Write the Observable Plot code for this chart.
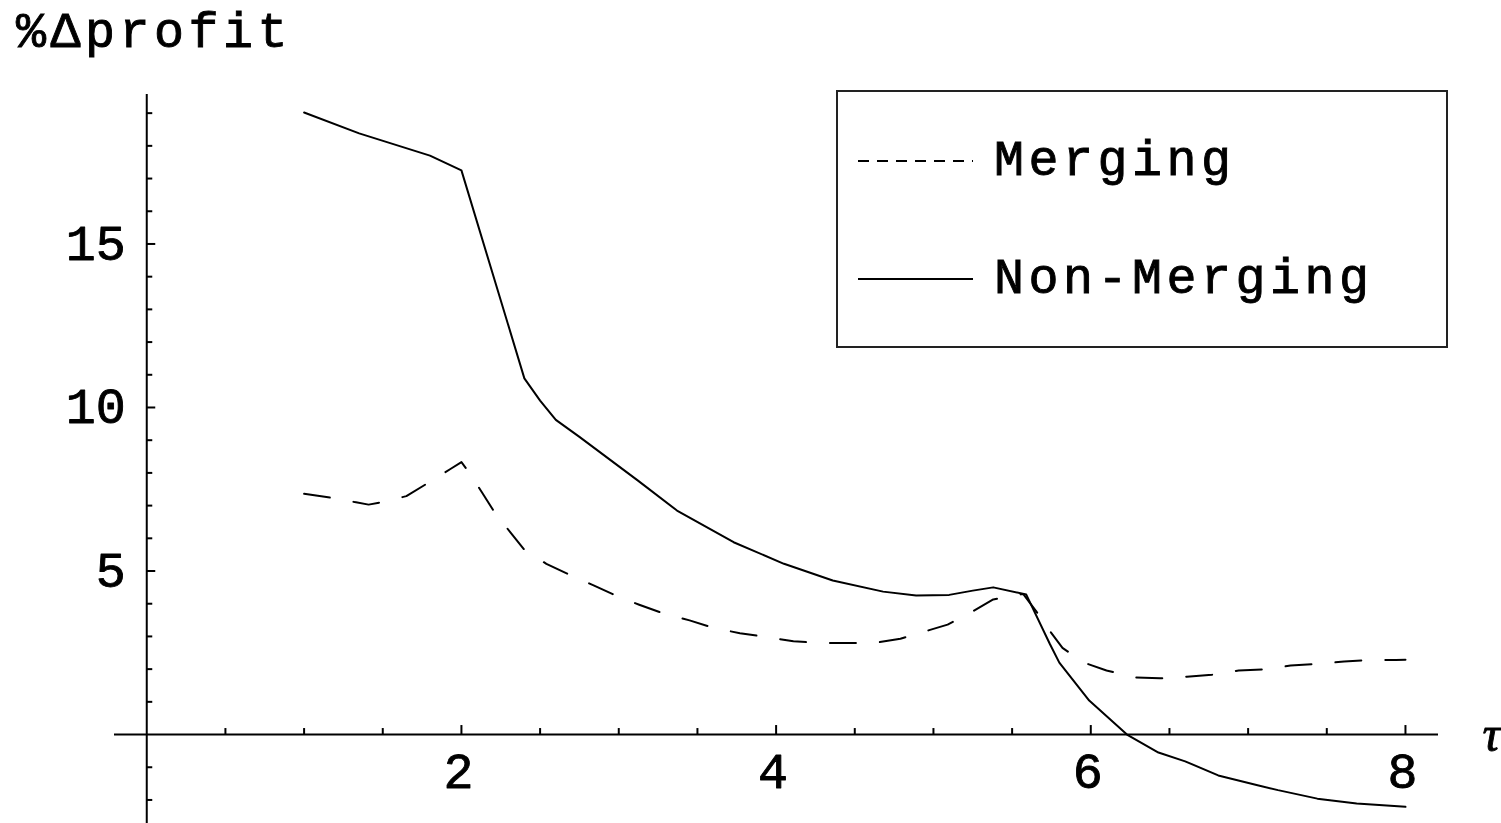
<!DOCTYPE html>
<html><head><meta charset="utf-8">
<script src="https://cdn.jsdelivr.net/npm/d3@7"></script>
<script src="https://cdn.jsdelivr.net/npm/@observablehq/plot@0.6"></script>
<style>
html,body{margin:0;padding:0;background:#fff;}
#wrap{position:relative;width:1501px;height:823px;overflow:hidden;background:#fff;}
#wrap svg{display:block;}
#overlay{position:absolute;left:0;top:0;pointer-events:none;}
</style>
</head><body>
<div id="wrap"></div>
<script>
// ---- data ----
const seriesNames = ["Merging", "Non-Merging"];
const yLabel = "%Δprofit";
const xLabel = "τ";

const nonMergingTau    = [1.0, 1.35, 1.8, 2.0, 2.4, 2.5, 2.6, 2.75, 3.12, 3.37, 3.73, 4.05, 4.36, 4.68, 4.89, 5.1, 5.25, 5.38, 5.59, 5.74, 5.8, 5.99, 6.23, 6.43, 6.6, 6.81, 7.06, 7.19, 7.44, 7.69, 8.0];
const nonMergingProfit = [19.02, 18.38, 17.7, 17.25, 10.89, 10.21, 9.62, 9.1, 7.77, 6.85, 5.88, 5.22, 4.71, 4.37, 4.25, 4.27, 4.4, 4.5, 4.28, 2.77, 2.2, 1.04, 0.0, -0.55, -0.82, -1.25, -1.55, -1.7, -1.96, -2.11, -2.21];

const mergingTau    = [1.0, 1.17, 1.33, 1.41, 1.49, 1.65, 1.78, 1.93, 2.0, 2.04, 2.13, 2.21, 2.31, 2.4, 2.54, 2.69, 2.84, 2.99, 3.13, 3.29, 3.45, 3.61, 3.77, 3.94, 4.11, 4.28, 4.44, 4.62, 4.79, 4.93, 5.09, 5.24, 5.38, 5.57, 5.65, 5.73, 5.82, 5.95, 6.1, 6.27, 6.44, 6.61, 6.77, 6.94, 7.1, 7.27, 7.43, 7.61, 7.77, 7.94, 8.0];
const mergingProfit = [7.36, 7.24, 7.1, 7.03, 7.1, 7.29, 7.67, 8.12, 8.33, 8.07, 7.41, 6.8, 6.19, 5.65, 5.22, 4.88, 4.56, 4.23, 3.97, 3.69, 3.49, 3.25, 3.1, 2.98, 2.85, 2.8, 2.8, 2.8, 2.93, 3.13, 3.36, 3.74, 4.13, 4.3, 3.79, 3.23, 2.65, 2.21, 1.96, 1.75, 1.72, 1.77, 1.83, 1.96, 1.99, 2.11, 2.16, 2.23, 2.28, 2.28, 2.29];

const xMajorTicks = [2, 4, 6, 8];
const xMinorTicks = [0.5, 1, 1.5, 2.5, 3, 3.5, 4.5, 5, 5.5, 6.5, 7, 7.5];
const yMajorTicks = [5, 10, 15];
const yMinorTicks = [-2, -1, 1, 2, 3, 4, 6, 7, 8, 9, 11, 12, 13, 14, 16, 17, 18, 19];
const xDomain = [-0.205, 8.21];
const yDomain = [-2.72, 19.57];

// ---- build ----
const nonMerging = nonMergingTau.map((t, i) => ({tau: t, profit: nonMergingProfit[i]}));
const merging = mergingTau.map((t, i) => ({tau: t, profit: mergingProfit[i]}));

const FONT = "'Liberation Mono', 'Courier New', monospace";
const W = 1501, H = 823;

const chart = Plot.plot({
  width: W, height: H,
  marginLeft: 114, marginRight: 63, marginTop: 94, marginBottom: 0,
  x: {domain: xDomain, axis: null},
  y: {domain: yDomain, axis: null},
  style: {background: "white", overflow: "visible"},
  marks: [
    Plot.ruleY([0], {x1: xDomain[0], x2: xDomain[1], stroke: "black", strokeWidth: 2}),
    Plot.ruleX([0], {stroke: "black", strokeWidth: 2}),
    Plot.ruleX(xMinorTicks, {x: d => d, y: 0, insetBottom: 6, stroke: "black", strokeWidth: 2}),
    Plot.ruleX(xMajorTicks, {x: d => d, y: 0, insetBottom: 9, stroke: "black", strokeWidth: 2}),
    Plot.ruleY(yMinorTicks, {y: d => d, x: 0, insetRight: -6, stroke: "black", strokeWidth: 2}),
    Plot.ruleY(yMajorTicks, {y: d => d, x: 0, insetRight: -9, stroke: "black", strokeWidth: 2}),
    Plot.text(xMajorTicks, {x: d => d, y: 0, text: d => String(d), dx: -3, dy: 37, fontSize: 50, fontFamily: FONT, fill: "black", stroke: "black", strokeWidth: 0.9}),
    Plot.text(yMajorTicks, {x: 0, y: d => d, text: d => String(d), textAnchor: "end", dx: -21, fontSize: 50, fontFamily: FONT, fill: "black", stroke: "black", strokeWidth: 0.9}),
    Plot.text([xLabel], {x: xDomain[1], y: 0, text: d => d, textAnchor: "start", dx: 44, fontSize: 50, fontStyle: "italic", fontFamily: "'Liberation Serif', serif", fill: "black", stroke: "black", strokeWidth: 0.9}),
    Plot.line(merging, {x: "tau", y: "profit", stroke: "black", strokeWidth: 2, strokeDasharray: "26,24"}),
    Plot.line(nonMerging, {x: "tau", y: "profit", stroke: "black", strokeWidth: 2})
  ]
});
document.getElementById("wrap").appendChild(chart);

// ---- title and legend overlay ----
const ns = "http://www.w3.org/2000/svg";
const ov = document.createElementNS(ns, "svg");
ov.setAttribute("id", "overlay");
ov.setAttribute("width", W);
ov.setAttribute("height", H);
function el(tag, attrs, text) {
  const e = document.createElementNS(ns, tag);
  for (const k in attrs) e.setAttribute(k, attrs[k]);
  if (text != null) e.textContent = text;
  ov.appendChild(e);
  return e;
}
const textStyle = {"font-family": FONT, "font-size": 50, fill: "black", stroke: "black", "stroke-width": 0.9};
el("text", Object.assign({x: 16, y: 47, "letter-spacing": "4.5px"}, textStyle), yLabel);
el("rect", {x: 837, y: 91, width: 610, height: 256, fill: "white", stroke: "#222", "stroke-width": 2});
el("line", {x1: 858, x2: 973, y1: 161, y2: 161, stroke: "black", "stroke-width": 2, "stroke-dasharray": "11,8"});
el("line", {x1: 858, x2: 973, y1: 279, y2: 279, stroke: "black", "stroke-width": 2});
el("text", Object.assign({x: 994, y: 175, "letter-spacing": "4.5px"}, textStyle), seriesNames[0]);
el("text", Object.assign({x: 994, y: 293, "letter-spacing": "4.5px"}, textStyle), seriesNames[1]);
document.getElementById("wrap").appendChild(ov);
</script>
</body></html>
